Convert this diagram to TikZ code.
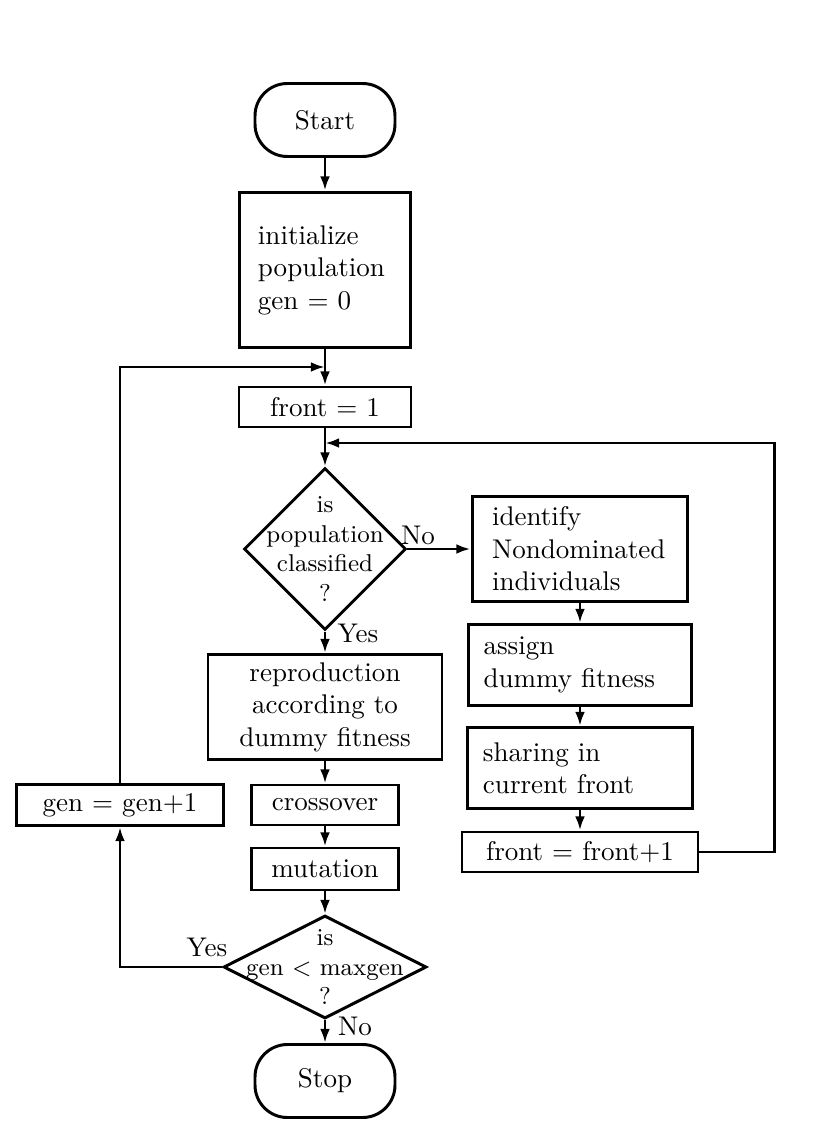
\documentclass[tikz,border=0pt]{standalone}
\usepackage{tikz}
\usetikzlibrary{shapes.geometric}
\usetikzlibrary{arrows.meta}
\tikzset{
flow/.style={draw, line width=1.1pt},
term/.style={
  flow, rectangle, rounded corners=12pt,
  minimum width=140*0.37pt, minimum height=73*0.37pt
},
cbox/.style 2 args={
  flow, rectangle, align=center, inner sep=0pt,
  minimum width=#1*0.37pt, minimum height=#2*0.37pt
},
lbox/.style={flow, rectangle, align=left, inner ysep=0pt},
decision/.style 2 args={
  flow, diamond, inner sep=0pt,
  minimum width=#1*0.37pt, minimum height=#2*0.37pt
},
dtext/.style={align=center, font=\small, inner sep=0pt},
lbl/.style={inner sep=0pt},
}

\begin{document}
\begin{tikzpicture}[x=0.37pt,y=-0.37pt,>={Latex[length=5.2pt,width=3.6pt]}]
\useasboundingbox (0,0) rectangle (834,1145);
% the main column
\node[term] (start) at (325,120) {Start};
\node[lbox, text width=49.6pt, inner xsep=7pt, minimum height=57.7pt] (init) at (325,270)
  {initialize\\population\\gen $=$ 0};
\node[cbox={172}{40}] (front1) at (325,407) {front $=$ 1};
\node[decision={162}{162}, label={[dtext]center:is\\population\\classified\\?}] (cls) at (325,549) {};
\node[cbox={234}{105}] (repro) at (325,707) {reproduction\\according to\\dummy fitness};
\node[cbox={147}{40}] (cross) at (325,805) {crossover};
\node[cbox={147}{42}] (mut) at (325,869) {mutation};
\node[decision={203}{103}, label={[dtext]center:is\\gen $<$ maxgen\\?}] (gl) at (325,967) {};
\node[term] (stop) at (325,1081) {Stop};
% the front column
\node[lbox, text width=65.1pt, inner xsep=7.4pt, minimum height=39.2pt] (ident) at (580,549)
  {identify\\Nondominated\\individuals};
\node[lbox, text width=71.4pt, inner xsep=5.55pt, minimum height=30pt] (assign) at (580,665)
  {assign\\dummy fitness};
\node[lbox, text width=71.8pt, inner xsep=5.55pt, minimum height=30pt] (share) at (580,768)
  {sharing in\\current front};
\node[cbox={236}{40}] (frontinc) at (580,852) {front $=$ front$+$1};
% the generation counter
\node[cbox={207}{41}] (geninc) at (120,805) {gen $=$ gen$+$1};
% the labels
\node[lbl] (no1) at (418,535) {No};
\node[lbl] (yes1) at (358,633) {Yes};
\node[lbl] (yes2) at (207,947) {Yes};
\node[lbl] (no2) at (355,1026) {No};
% the joins
\coordinate (j1) at (325,443);
\coordinate (j2) at (325,367);
% the arrows
\begin{scope}[line width=1.1pt]
\draw[->] (start) -- (init);
\draw[->] (init) -- (front1);
\draw[->] (front1) -- (cls);
\draw[->] (cls) -- (repro);
\draw[->] (cls.east) -- (ident.west);
\draw[->] (ident) -- (assign);
\draw[->] (assign) -- (share);
\draw[->] (share) -- (frontinc);
\draw[->] (frontinc.east) -- ++(75,0) |- (j1);
\draw[->] (repro) -- (cross);
\draw[->] (cross) -- (mut);
\draw[->] (mut) -- (gl);
\draw[->] (gl) -- (stop);
\draw[->] (gl.west) -| (geninc.south);
\draw[->] (geninc.north) |- (j2);
\end{scope}
\end{tikzpicture}
\end{document}
